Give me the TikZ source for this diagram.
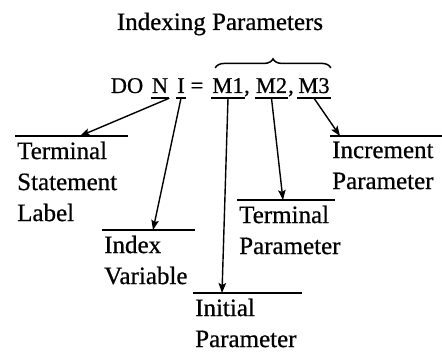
\documentclass[tikz,border=0pt]{standalone}
\usepackage{fontspec}
\setmainfont{Liberation Serif}[FakeBold=0.6]
\usetikzlibrary{arrows.meta,calc,decorations.pathreplacing}

\begin{document}
\begin{tikzpicture}[
  x=1pt, y=-1pt,
  tok/.style={anchor=base, inner xsep=1pt, inner ysep=5pt, text depth=0pt,
    font=\fontsize{22.5}{27}\selectfont},
  lbl/.style={anchor=north west, align=left, inner xsep=2pt, inner ysep=2pt,
    font=\fontsize{25}{31}\selectfont},
  uline/.style={line width=1.5pt},
  shelf/.style={line width=2pt},
  pointer/.style={line width=1.4pt, -{Stealth[length=10pt, width=7.5pt, inset=2pt]}},
  brace/.style={decorate, decoration={brace, amplitude=9pt}, line width=1.5pt}
]
\useasboundingbox (0,0) rectangle (442,352);

\node[tok, font=\fontsize{25}{30}\selectfont] (title) at (220,30) {Indexing Parameters};

% the DO statement, one node per token
\node[tok] (do)  at (127,93)   {DO};
\node[tok] (n)   at (160,93)   {N};
\node[tok] (i)   at (181,93)   {I};
\node[tok] (eq)  at (197,93)   {=};
\node[tok] (m1)  at (228,93)   {M1};
\node[tok] (c1)  at (247,93)   {,};
\node[tok] (m2)  at (271.5,93) {M2};
\node[tok] (c2)  at (291,93)   {,};
\node[tok] (m3)  at (314,93)   {M3};

\foreach \t in {n,i,m1,m2,m3}
  \draw[uline] (\t.south west) -- (\t.south east);

\draw[brace] ([xshift=4pt,yshift=5pt]m1.north west) -- ([yshift=5pt]m3.north east);

% labels hanging under their shelves (shelf sits 3.5pt above each node)
\node[lbl] (tsl) at (15,139.5)  {Terminal\\Statement\\Label};
\node[lbl] (iv)  at (102,233.5) {Index\\Variable};
\node[lbl] (ip)  at (193,296.5) {Initial\\Parameter};
\node[lbl] (tp)  at (237,203.5) {Terminal\\Parameter};
\node[lbl] (inc) at (330,139.5) {Increment\\Parameter};

\draw[shelf] ([yshift=3.5pt]tsl.north west) -- ++(113,0);
\draw[shelf] ([yshift=3.5pt]iv.north west)  -- ++(93,0);
\draw[shelf] ([yshift=3.5pt]ip.north west)  -- ++(109,0);
\draw[shelf] ([yshift=3.5pt]tp.north west)  -- ++(98,0);
\draw[shelf] ([yshift=3.5pt]inc.north west) -- ++(112,0);

\draw[pointer] (n.south east) -- ($(tsl.north west)+(65,-3.5)$);
\draw[pointer] (i.south)      -- ($(iv.north west)+(51,-3.5)$);
\draw[pointer] (m1.south)     -- ($(ip.north west)+(29,-3.5)$);
\draw[pointer] (m2.south)     -- ($(tp.north west)+(46,-3.5)$);
\draw[pointer] (m3.south)     -- ($(inc.north west)+(10,-3.5)$);

\end{tikzpicture}
\end{document}
